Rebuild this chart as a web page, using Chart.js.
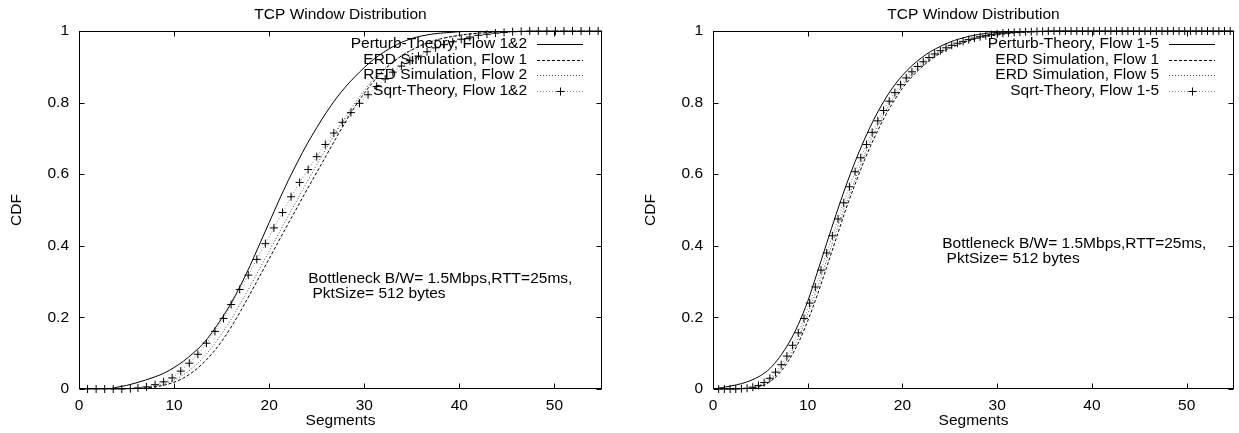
<!DOCTYPE html>
<html>
<head>
<meta charset="utf-8">
<script src="https://cdn.jsdelivr.net/npm/chart.js@4.4.0/dist/chart.umd.min.js"></script>
<style>
  body { margin: 0; background: #fff; }
  #wrap { position: relative; width: 1239px; height: 433px; }
  .box { position: absolute; top: 0; height: 433px; }
</style>
</head>
<body>
<div id="wrap">
  <div class="box" style="left:0;width:634px"><canvas id="left"></canvas></div>
  <div class="box" style="left:634px;width:605px"><canvas id="right"></canvas></div>
</div>
<script>
// axis ticks
const xTickValues = [0, 10, 20, 30, 40, 50];
const yTickValues = [0, 0.2, 0.4, 0.6, 0.8, 1];

// left panel: flows 1 & 2
const leftLabels = ['Perturb-Theory, Flow 1&2', 'ERD Simulation, Flow 1', 'RED Simulation, Flow 2', 'Sqrt-Theory, Flow 1&2'];
const leftPerturb = [[0,0],[3,0],[4,0.005],[5,0.01],[6,0.017],[7,0.025],[8,0.034],[9,0.045],[10,0.06],[11,0.078],[12,0.1],[13,0.125],[14,0.158],[15,0.197],[16,0.24],[17,0.29],[18,0.345],[19,0.405],[20,0.465],[21,0.525],[22,0.582],[23,0.635],[24,0.685],[25,0.73],[26,0.772],[27,0.81],[28,0.843],[29,0.872],[30,0.898],[31,0.921],[32,0.94],[33,0.956],[34,0.969],[35,0.979],[36,0.986],[37,0.991],[38,0.994],[40,0.998],[42,1],[55,1]];
const leftErd1 = [[0,0],[5,0],[6,0.001],[7,0.003],[8,0.006],[9,0.011],[10,0.019],[11,0.031],[12,0.048],[13,0.071],[14,0.099],[15,0.133],[16,0.173],[17,0.218],[18,0.266],[19,0.315],[20,0.364],[21,0.413],[22,0.462],[23,0.51],[24,0.558],[25,0.605],[26,0.652],[27,0.699],[28,0.745],[29,0.788],[30,0.826],[31,0.86],[32,0.889],[33,0.912],[34,0.932],[35,0.947],[36,0.96],[37,0.97],[38,0.978],[40,0.988],[42,0.994],[44,0.997],[46,0.999],[48,1],[55,1]];
const leftRed2 = [[0,0],[6,0],[7,0.004],[8,0.008],[9,0.015],[10,0.025],[11,0.04],[12,0.06],[13,0.086],[14,0.117],[15,0.154],[16,0.195],[17,0.24],[18,0.287],[19,0.336],[20,0.385],[21,0.434],[22,0.483],[23,0.531],[24,0.579],[25,0.626],[26,0.672],[27,0.716],[28,0.758],[29,0.798],[30,0.834],[31,0.866],[32,0.893],[33,0.915],[34,0.933],[35,0.948],[36,0.96],[37,0.97],[38,0.978],[40,0.988],[42,0.994],[44,0.997],[46,0.999],[48,1],[55,1]];
const leftSqrt = [[0.9,0],[1.8,0],[2.7,0],[3.6,0],[4.5,0],[5.4,0.001],[6.2,0.003],[7.1,0.006],[8.0,0.012],[8.9,0.02],[9.8,0.031],[10.7,0.05],[11.6,0.072],[12.5,0.097],[13.4,0.128],[14.3,0.161],[15.2,0.197],[16.0,0.236],[16.9,0.278],[17.8,0.318],[18.7,0.362],[19.6,0.406],[20.5,0.45],[21.4,0.493],[22.3,0.537],[23.2,0.577],[24.1,0.613],[25.0,0.649],[25.9,0.683],[26.8,0.715],[27.7,0.745],[28.6,0.772],[29.5,0.798],[30.4,0.822],[31.3,0.845],[32.2,0.866],[33.0,0.885],[33.9,0.902],[34.8,0.917],[35.7,0.93],[36.6,0.942],[37.5,0.953],[38.4,0.962],[39.3,0.97],[40.2,0.977],[41.1,0.983],[42.0,0.988],[42.9,0.991],[43.8,0.994],[44.7,0.996],[45.6,0.998],[46.5,0.999],[47.4,1],[48.3,1],[49.2,1],[50.1,1],[51.0,1],[51.9,1],[52.8,1],[53.7,1],[54.6,1]];

// right panel: flows 1 - 5
const rightLabels = ['Perturb-Theory, Flow 1-5', 'ERD Simulation, Flow 1', 'ERD Simulation, Flow 5', 'Sqrt-Theory, Flow 1-5'];
const rightPerturb = [[0,0],[1,0.004],[2,0.009],[3,0.015],[4,0.024],[5,0.037],[6,0.057],[7,0.088],[8,0.128],[9,0.18],[10,0.245],[11,0.325],[12,0.407],[13,0.488],[14,0.565],[15,0.635],[16,0.698],[17,0.754],[18,0.802],[19,0.843],[20,0.876],[21,0.903],[22,0.925],[23,0.943],[24,0.957],[25,0.969],[26,0.978],[27,0.985],[28,0.99],[29,0.994],[30,0.996],[32,0.999],[34,1],[55,1]];
const rightErd1 = [[0,0],[3,0],[4,0.002],[5,0.007],[6,0.02],[7,0.044],[8,0.08],[9,0.128],[10,0.19],[11,0.262],[12,0.34],[13,0.42],[14,0.5],[15,0.572],[16,0.64],[17,0.7],[18,0.754],[19,0.8],[20,0.84],[21,0.872],[22,0.898],[23,0.92],[24,0.938],[25,0.952],[26,0.963],[27,0.972],[28,0.98],[29,0.985],[30,0.989],[32,0.995],[34,0.998],[36,0.999],[38,1],[55,1]];
const rightErd5 = [[0,0],[2,0],[3,0.001],[4,0.003],[5,0.01],[6,0.025],[7,0.052],[8,0.09],[9,0.142],[10,0.21],[11,0.281],[12,0.36],[13,0.44],[14,0.516],[15,0.585],[16,0.655],[17,0.715],[18,0.766],[19,0.81],[20,0.848],[21,0.879],[22,0.904],[23,0.925],[24,0.941],[25,0.955],[26,0.966],[27,0.974],[28,0.981],[29,0.987],[30,0.991],[32,0.996],[34,0.998],[36,1],[55,1]];
const rightSqrt = [[0.6,0],[1.2,0],[1.8,0],[2.4,0],[3.0,0.001],[3.6,0.002],[4.2,0.005],[4.8,0.01],[5.4,0.018],[6.0,0.03],[6.6,0.047],[7.2,0.068],[7.8,0.092],[8.4,0.122],[9.0,0.157],[9.6,0.197],[10.2,0.24],[10.8,0.285],[11.4,0.332],[12.0,0.38],[12.6,0.428],[13.2,0.475],[13.8,0.52],[14.4,0.565],[15.0,0.607],[15.6,0.646],[16.2,0.683],[16.8,0.717],[17.4,0.749],[18.0,0.778],[18.6,0.804],[19.2,0.828],[19.8,0.85],[20.4,0.869],[21.0,0.886],[21.6,0.901],[22.2,0.914],[22.8,0.926],[23.4,0.936],[24.0,0.945],[24.6,0.953],[25.2,0.96],[25.8,0.966],[26.4,0.971],[27.0,0.976],[27.6,0.98],[28.2,0.984],[28.8,0.987],[29.4,0.99],[30.0,0.992],[30.6,0.994],[31.2,0.995],[31.8,0.996],[32.4,0.997],[33.0,0.998],[33.6,0.998],[34.2,0.999],[34.8,0.999],[35.4,1],[36.0,1],[36.6,1],[37.2,1],[37.8,1],[38.4,1],[39.0,1],[39.6,1],[40.2,1],[40.8,1],[41.4,1],[42.0,1],[42.6,1],[43.2,1],[43.8,1],[44.4,1],[45.0,1],[45.6,1],[46.2,1],[46.8,1],[47.4,1],[48.0,1],[48.6,1],[49.2,1],[49.8,1],[50.4,1],[51.0,1],[51.6,1],[52.2,1],[52.8,1],[53.4,1],[54.0,1],[54.6,1]];

const noteLines = ['Bottleneck B/W= 1.5Mbps,RTT=25ms,', ' PktSize= 512 bytes'];

const FONT = '"Liberation Sans", Arial, Helvetica, sans-serif';
const FSIZE = 15.5;
Chart.defaults.font.family = FONT;
Chart.defaults.font.size = FSIZE;
Chart.defaults.color = '#000';

function pts(arr) {
  return arr.map(p => ({ x: p[0], y: p[1] }));
}

// box with inward ticks on all four sides, like gnuplot
const framePlugin = {
  id: 'frame',
  afterDatasetsDraw(chart) {
    const { ctx, chartArea: a, scales } = chart;
    const L = Math.round(a.left) + 0.5, R = Math.round(a.right) - 0.5;
    const T = Math.round(a.top) + 0.5, B = Math.round(a.bottom) - 0.5;
    ctx.save();
    ctx.strokeStyle = '#000';
    ctx.lineWidth = 1;
    ctx.setLineDash([]);
    ctx.strokeRect(L, T, R - L, B - T);
    ctx.beginPath();
    scales.x.ticks.forEach(t => {
      const px = Math.round(scales.x.getPixelForValue(t.value)) + 0.5;
      ctx.moveTo(px, B); ctx.lineTo(px, B - 5);
      ctx.moveTo(px, T); ctx.lineTo(px, T + 5);
    });
    scales.y.ticks.forEach(t => {
      const py = Math.round(scales.y.getPixelForValue(t.value)) + 0.5;
      ctx.moveTo(L, py); ctx.lineTo(L + 5, py);
      ctx.moveTo(R, py); ctx.lineTo(R - 5, py);
    });
    ctx.stroke();
    ctx.restore();
  }
};

// gnuplot style key: right aligned text, sample to the right
const keyPlugin = {
  id: 'key',
  afterDatasetsDraw(chart) {
    const { ctx, chartArea: a } = chart;
    ctx.save();
    ctx.font = FSIZE + 'px ' + FONT;
    ctx.textAlign = 'right';
    ctx.textBaseline = 'middle';
    chart.data.datasets.forEach((ds, i) => {
      const y = a.top + 13 + i * 15.5;
      ctx.fillStyle = '#000';
      ctx.fillText(ds.label, a.right - 75, y);
      const x0 = a.right - 65, x1 = a.right - 19;
      ctx.strokeStyle = ds.borderColor;
      ctx.lineWidth = ds.borderWidth;
      ctx.setLineDash(ds.borderDash || []);
      ctx.beginPath();
      ctx.moveTo(x0, Math.round(y) + 0.5);
      ctx.lineTo(x1, Math.round(y) + 0.5);
      ctx.stroke();
      if (ds.pointStyle === 'cross') {
        const cx = Math.round((x0 + x1) / 2) + 0.5, cy = Math.round(y) + 0.5;
        ctx.setLineDash([]);
        ctx.strokeStyle = '#000';
        ctx.beginPath();
        ctx.moveTo(cx - 4, cy); ctx.lineTo(cx + 4, cy);
        ctx.moveTo(cx, cy - 4); ctx.lineTo(cx, cy + 4);
        ctx.stroke();
      }
    });
    ctx.restore();
  }
};

// text label placed in data coordinates
const notePlugin = {
  id: 'note',
  afterDatasetsDraw(chart, args, opts) {
    const { ctx, scales } = chart;
    const x = scales.x.getPixelForValue(opts.x);
    const y = scales.y.getPixelForValue(opts.y);
    ctx.save();
    ctx.font = FSIZE + 'px ' + FONT;
    ctx.fillStyle = '#000';
    ctx.textAlign = 'left';
    ctx.textBaseline = 'middle';
    noteLines.forEach((line, i) => ctx.fillText(line, x, y + i * 14.8));
    ctx.restore();
  }
};

function makeChart(id, labels, series, note, padRight) {
  const datasets = [
    { label: labels[0], data: pts(series[0]), borderColor: '#000', borderWidth: 1, borderDash: [],
      pointRadius: 0, cubicInterpolationMode: 'monotone' },
    { label: labels[1], data: pts(series[1]), borderColor: '#000', borderWidth: 1, borderDash: [3, 2],
      pointRadius: 0, cubicInterpolationMode: 'monotone' },
    { label: labels[2], data: pts(series[2]), borderColor: '#444', borderWidth: 1, borderDash: [1, 2],
      pointRadius: 0, cubicInterpolationMode: 'monotone' },
    { label: labels[3], data: pts(series[3]), borderColor: '#888', borderWidth: 1, borderDash: [1, 2],
      pointStyle: 'cross', pointRadius: 4, pointBorderColor: '#000', pointBorderWidth: 1, clip: false }
  ];
  return new Chart(document.getElementById(id), {
    type: 'line',
    data: { datasets },
    options: {
      responsive: true,
      maintainAspectRatio: false,
      animation: false,
      events: [],
      layout: { padding: { top: 0, right: padRight, bottom: 0, left: 0 } },
      plugins: {
        legend: { display: false },
        tooltip: { enabled: false },
        title: {
          display: true, text: 'TCP Window Distribution', fullSize: false,
          font: { size: FSIZE, weight: 'normal' }, color: '#000',
          padding: { top: 5.4, bottom: 7 }
        },
        note: note
      },
      scales: {
        x: {
          type: 'linear', min: 0, max: 55,
          afterBuildTicks: s => { s.ticks = xTickValues.map(v => ({ value: v })); },
          afterFit: s => { s.height = 44; },
          grid: { display: false, drawTicks: false },
          border: { display: false },
          ticks: { padding: 7, maxRotation: 0, autoSkip: false, callback: v => String(v) },
          title: { display: true, text: 'Segments', padding: { top: 0, bottom: 3.2 } }
        },
        y: {
          type: 'linear', min: 0, max: 1,
          afterBuildTicks: s => { s.ticks = yTickValues.map(v => ({ value: v })); },
          afterFit: s => { s.width = 79; },
          grid: { display: false, drawTicks: false },
          border: { display: false },
          ticks: { padding: 10, autoSkip: false, callback: v => String(v) },
          title: { display: true, text: 'CDF', padding: { top: 7.7, bottom: 0 } }
        }
      }
    },
    plugins: [framePlugin, keyPlugin, notePlugin]
  });
}

makeChart('left', leftLabels, [leftPerturb, leftErd1, leftRed2, leftSqrt], { x: 24.1, y: 0.308 }, 32);
makeChart('right', rightLabels, [rightPerturb, rightErd1, rightErd5, rightSqrt], { x: 24.2, y: 0.405 }, 2);
</script>
</body>
</html>
